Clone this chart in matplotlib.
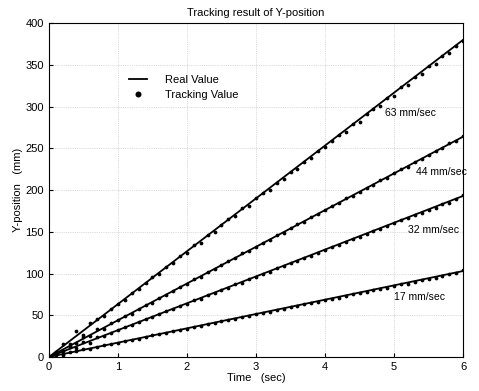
import matplotlib
matplotlib.use("Agg")
import matplotlib.pyplot as plt
import numpy as np

plt.rcParams['font.family'] = ['Liberation Sans', 'DejaVu Sans']

# sample times of the tracking values (sec)
t_track = np.linspace(0, 6, 61)

# tracking values (mm)
track_63 = [0, 2, 16, 13, 31, 26, 41, 46, 49, 58,
            64, 68, 77, 81, 89, 96, 100, 108, 112, 121,
            125, 134, 137, 146, 150, 158, 165, 169, 178, 181,
            190, 196, 200, 209, 213, 222, 225, 234, 238, 247,
            251, 259, 266, 270, 279, 282, 291, 297, 301, 310,
            313, 323, 326, 335, 339, 348, 351, 360, 364, 373, 379]
track_44 = [0, 5, 7, 15, 17, 24, 25, 33, 34, 41,
            44, 49, 52, 57, 62, 65, 71, 74, 79, 84,
            88, 93, 96, 102, 105, 110, 115, 118, 124, 127,
            132, 137, 140, 146, 149, 154, 159, 162, 168, 171,
            176, 181, 184, 190, 193, 198, 203, 206, 212, 215,
            220, 225, 228, 233, 237, 242, 247, 250, 256, 259, 265]
track_32 = [0, 6, 4, 12, 11, 18, 17, 24, 25, 29,
            32, 36, 38, 42, 45, 48, 51, 55, 57, 61,
            64, 68, 70, 74, 77, 80, 83, 87, 89, 93,
            96, 100, 102, 106, 109, 112, 115, 119, 121, 125,
            128, 132, 134, 138, 141, 144, 147, 151, 153, 157,
            160, 164, 166, 170, 173, 176, 179, 183, 185, 189, 194]
track_17 = [0, 3, 2, 6, 7, 9, 10, 12, 14, 15,
            17, 19, 20, 22, 24, 26, 27, 29, 31, 32,
            34, 36, 37, 39, 41, 43, 44, 46, 48, 49,
            51, 53, 54, 56, 58, 60, 61, 63, 65, 66,
            68, 70, 71, 73, 75, 77, 78, 80, 82, 83,
            85, 87, 88, 90, 92, 94, 95, 97, 99, 101, 104]

# real value lines: start / end
t_real = [0, 6]
real_63 = [0, 380]
real_44 = [0, 264]
real_32 = [0, 193]
real_17 = [0, 103]

speed_labels = ['63 mm/sec', '44 mm/sec', '32 mm/sec', '17 mm/sec']
label_pos = [(4.87, 292), (5.32, 221), (5.2, 152), (5.0, 72)]

fig = plt.figure(figsize=(4.79, 3.91), dpi=100)
ax = fig.add_axes([0.102, 0.087, 0.865, 0.854])

tracks = [track_63, track_44, track_32, track_17]
reals = [real_63, real_44, real_32, real_17]
for i in range(4):
    ax.plot(t_real, reals[i], color='black', lw=1.3,
            label='Real Value' if i == 0 else None)
    ax.plot(t_track, tracks[i], 'o', color='black', ms=2.7, mew=0,
            label='Tracking Value' if i == 0 else None)
    ax.text(label_pos[i][0], label_pos[i][1], speed_labels[i],
            fontsize=7.5, va='center', ha='left', clip_on=False)

ax.set_xlim(0, 6)
ax.set_ylim(0, 400)
ax.set_xticks(range(0, 7))
ax.set_yticks(range(0, 401, 50))
ax.tick_params(direction='in', labelsize=8, length=3)
ax.grid(True, linestyle=':', color='#bbbbbb', lw=0.5)
ax.set_title('Tracking result of Y-position', fontsize=8, pad=5)
ax.set_xlabel('Time   (sec)', fontsize=8, labelpad=1)
ax.set_ylabel('Y-position   (mm)', fontsize=8, labelpad=2)

leg = ax.legend(loc='upper left', bbox_to_anchor=(0.17, 0.875), frameon=False,
                fontsize=8, handlelength=1.6, markerscale=1.6,
                labelspacing=0.5, handletextpad=1.6)

fig.savefig('out.png', dpi=100)
